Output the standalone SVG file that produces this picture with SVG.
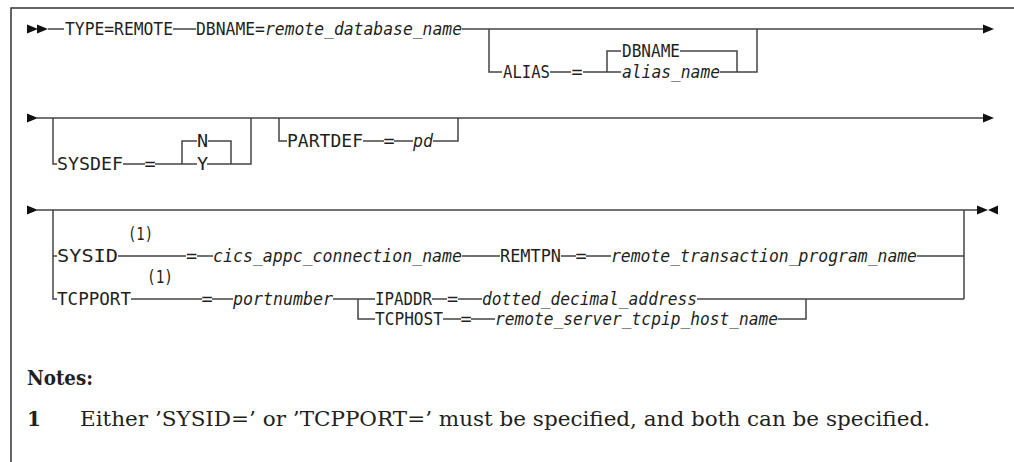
<svg xmlns="http://www.w3.org/2000/svg" xmlns:xlink="http://www.w3.org/1999/xlink" width="1014" height="462" viewBox="0 0 1014 462">
<style>
.ln{fill:none;stroke:#444;stroke-width:1.5}
.fr{fill:none;stroke:#333;stroke-width:1.5}
.t{font-family:"DejaVu Sans Mono","Liberation Mono",monospace;font-size:18.5px;fill:#231f20}
.i{font-style:italic}
.eq{text-anchor:middle}
.n{font-family:"DejaVu Serif","Liberation Serif",serif;font-size:20px;fill:#231f20}
.b{font-weight:bold}
.ah{fill:#111}
</style>
<defs>
<path id="tri" d="M0,-4.5 L11,0 L0,4.5Z"/>
</defs>
<path class="fr" d="M11,462 V8 H1014"/>
<g id="connectors">
<path class="ln" d="M48,29 H64 M173,29 H196 M462,29 H983"/>
<path class="ln" d="M489,29 V72 H502 M550,72 H571 M583,72 H621 M607,72 V51 H621 M680,51 H737 V72 M720,72 H757 V29"/>
<path class="ln" d="M37,118 H983"/>
<path class="ln" d="M53,118 V164 H57 M123,164 H145 M155,164 H197 M182,164 V141 H197 M208,141 H231 V164 M207,164 H251 V118"/>
<path class="ln" d="M279,118 V141 H287 M363,141 H384 M394,141 H413 M433,141 H458 V118"/>
<path class="ln" d="M37,210 H977 M964,210 V299 M53,210 V299 H57"/>
<path class="ln" d="M53,256 H57 M118,256 H186 M197,256 H213 M462,256 H500 M561,256 H576 M586,256 H611 M917,256 H964"/>
<path class="ln" d="M131,299 H202 M212,299 H233 M333,299 H375 M432,299 H447 M458,299 H482 M697,299 H964"/>
<path class="ln" d="M358,299 V319 H375 M443,319 H461 M471,319 H495 M778,319 H806 V299"/>
<use xlink:href="#tri" class="ah" x="27" y="29"/>
<use xlink:href="#tri" class="ah" x="37" y="29"/>
<use xlink:href="#tri" class="ah" x="983" y="29"/>
<use xlink:href="#tri" class="ah" x="27" y="118"/>
<use xlink:href="#tri" class="ah" x="983" y="118"/>
<use xlink:href="#tri" class="ah" x="27" y="210"/>
<use xlink:href="#tri" class="ah" x="977" y="210"/>
<path class="ah" d="M998,205.5 L988,210 L998,214.5Z"/>
</g>
<g id="row1">
<g id="n-type"><text class="t" x="65" y="35" textLength="108" lengthAdjust="spacingAndGlyphs">TYPE=REMOTE</text></g>
<g id="n-dbname"><text class="t" x="196" y="35" textLength="266" lengthAdjust="spacingAndGlyphs">DBNAME=<tspan class="i">remote_database_name</tspan></text></g>
<g id="n-alias"><text class="t" x="503" y="78" textLength="47" lengthAdjust="spacingAndGlyphs">ALIAS</text><text class="t eq" x="577" y="78">=</text></g>
<g id="n-alias-db"><text class="t" x="622" y="57" textLength="58" lengthAdjust="spacingAndGlyphs">DBNAME</text></g>
<g id="n-alias-name"><text class="t i" x="622" y="78" textLength="98" lengthAdjust="spacingAndGlyphs">alias_name</text></g>
</g>
<g id="row2">
<g id="n-sysdef"><text class="t" x="57" y="170" textLength="66" lengthAdjust="spacingAndGlyphs">SYSDEF</text><text class="t eq" x="150" y="170">=</text></g>
<g id="n-n"><text class="t eq" x="202.5" y="147">N</text></g>
<g id="n-y"><text class="t eq" x="202.5" y="170">Y</text></g>
<g id="n-partdef"><text class="t" x="287" y="147" textLength="76" lengthAdjust="spacingAndGlyphs">PARTDEF</text><text class="t eq" x="389" y="147">=</text><text class="t i" x="413" y="147" textLength="20" lengthAdjust="spacingAndGlyphs">pd</text></g>
</g>
<g id="row3">
<g id="n-sysid"><text class="t" x="128" y="240" textLength="25" lengthAdjust="spacingAndGlyphs">(1)</text><text class="t" x="57" y="262" textLength="61" lengthAdjust="spacingAndGlyphs">SYSID</text><text class="t eq" x="191.5" y="262">=</text><text class="t i" x="213" y="262" textLength="249" lengthAdjust="spacingAndGlyphs">cics_appc_connection_name</text></g>
<g id="n-remtpn"><text class="t" x="500" y="262" textLength="61" lengthAdjust="spacingAndGlyphs">REMTPN</text><text class="t eq" x="581" y="262">=</text><text class="t i" x="611" y="262" textLength="306" lengthAdjust="spacingAndGlyphs">remote_transaction_program_name</text></g>
<g id="n-tcpport"><text class="t" x="147" y="283" textLength="26" lengthAdjust="spacingAndGlyphs">(1)</text><text class="t" x="57" y="305" textLength="74" lengthAdjust="spacingAndGlyphs">TCPPORT</text><text class="t eq" x="207" y="305">=</text><text class="t i" x="233" y="305" textLength="100" lengthAdjust="spacingAndGlyphs">portnumber</text></g>
<g id="n-ipaddr"><text class="t" x="375" y="305" textLength="57" lengthAdjust="spacingAndGlyphs">IPADDR</text><text class="t eq" x="452.5" y="305">=</text><text class="t i" x="482" y="305" textLength="215" lengthAdjust="spacingAndGlyphs">dotted_decimal_address</text></g>
<g id="n-tcphost"><text class="t" x="375" y="325" textLength="68" lengthAdjust="spacingAndGlyphs">TCPHOST</text><text class="t eq" x="466" y="325">=</text><text class="t i" x="495" y="325" textLength="283" lengthAdjust="spacingAndGlyphs">remote_server_tcpip_host_name</text></g>
</g>
<g id="notes">
<text class="n b" x="27" y="385" textLength="66" lengthAdjust="spacingAndGlyphs">Notes:</text>
<text class="n b" x="27" y="426">1</text>
<text class="n" x="80" y="426" textLength="850" lengthAdjust="spacingAndGlyphs">Either ’SYSID=’ or ’TCPPORT=’ must be specified, and both can be specified.</text>
</g>
</svg>
